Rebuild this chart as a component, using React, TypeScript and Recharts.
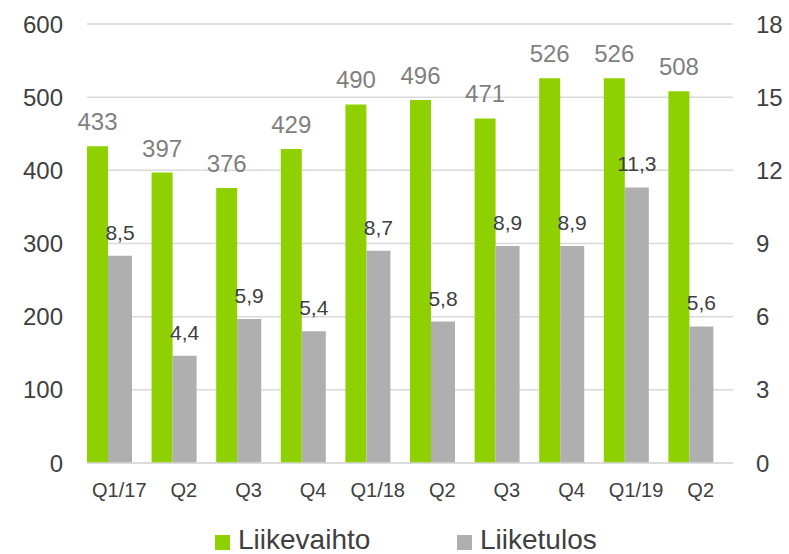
import { Bar, BarChart, CartesianGrid, LabelList, Legend, XAxis, YAxis } from 'recharts';

const FONT = '"Liberation Sans", Arial, sans-serif';
const GREEN = '#8fd100';
const GREY = '#afafaf';
const TEXT = '#404040';
const LABEL_GREY = '#7f7f7f';

const quarters = ['Q1/17', 'Q2', 'Q3', 'Q4', 'Q1/18', 'Q2', 'Q3', 'Q4', 'Q1/19', 'Q2'];
const liikevaihto = [433, 397, 376, 429, 490, 496, 471, 526, 526, 508];
const liiketulos = [8.5, 4.4, 5.9, 5.4, 8.7, 5.8, 8.9, 8.9, 11.3, 5.6];
const leftTicks = [0, 100, 200, 300, 400, 500, 600];
const rightTicks = [0, 3, 6, 9, 12, 15, 18];

// third empty series keeps the Excel-style offset of the bar pair inside each category
const data = quarters.map((q, i) => ({
  q,
  liikevaihto: liikevaihto[i],
  liiketulos: liiketulos[i],
  tyhja: null,
}));

const fmtComma = (v: number) => v.toFixed(1).replace('.', ',');

function makeLabel(fontSize: number, fill: string, format: (v: number) => string) {
  return (props: any) => {
    const { x, y, width, value } = props;
    if (value == null) return null;
    return (
      <text
        x={Number(x) + Number(width) / 2}
        y={Number(y) - 16}
        textAnchor="middle"
        fontSize={fontSize}
        fill={fill}
        fontFamily={FONT}
      >
        {format(Number(value))}
      </text>
    );
  };
}

const legendItems = [
  { name: 'Liikevaihto', color: GREEN, width: 242 },
  { name: 'Liiketulos', color: GREY, width: 180 },
];

function ChartLegend() {
  return (
    <div style={{ display: 'flex', fontFamily: FONT, fontSize: 28, lineHeight: '28px', color: TEXT }}>
      {legendItems.map((it) => (
        <div key={it.name} style={{ display: 'flex', alignItems: 'center', width: it.width }}>
          <span style={{ width: 15, height: 15, background: it.color, marginTop: 4, marginRight: 8 }} />
          <span>{it.name}</span>
        </div>
      ))}
    </div>
  );
}

export default function App() {
  return (
    <div style={{ position: 'absolute', left: 0, top: 0, background: '#fff' }}>
      <BarChart
        width={789}
        height={554}
        data={data}
        margin={{ top: 24, right: 0, bottom: 61, left: 0 }}
        barGap={0}
      >
        <CartesianGrid yAxisId="left" vertical={false} stroke="#d9d9d9" strokeWidth={1.5} />
        <XAxis
          dataKey="q"
          height={30}
          tickLine={false}
          tickSize={0}
          tickMargin={20}
          axisLine={{ stroke: '#d9d9d9', strokeWidth: 1.5 }}
          tick={{ fill: TEXT, fontSize: 20, fontFamily: FONT }}
          interval={0}
        />
        <YAxis
          yAxisId="left"
          width={87}
          domain={[0, 600]}
          ticks={leftTicks}
          tickLine={false}
          axisLine={false}
          tickSize={0}
          tickMargin={24}
          tick={{ fill: TEXT, fontSize: 24, fontFamily: FONT }}
        />
        <YAxis
          yAxisId="right"
          orientation="right"
          width={56}
          domain={[0, 18]}
          ticks={rightTicks}
          tickLine={false}
          axisLine={false}
          tickSize={0}
          tickMargin={23}
          tick={{ fill: TEXT, fontSize: 24, fontFamily: FONT, textAnchor: 'start' }}
        />
        <Legend
          layout="horizontal"
          verticalAlign="middle"
          content={() => <ChartLegend />}
          wrapperStyle={{ left: 215, top: 526, width: 430, bottom: 'auto' }}
        />
        <Bar yAxisId="left" dataKey="liikevaihto" fill={GREEN} barSize={21} isAnimationActive={false}>
          <LabelList dataKey="liikevaihto" content={makeLabel(24, LABEL_GREY, (v) => String(v))} />
        </Bar>
        <Bar yAxisId="right" dataKey="liiketulos" fill={GREY} barSize={24} isAnimationActive={false}>
          <LabelList dataKey="liiketulos" content={makeLabel(21, TEXT, fmtComma)} />
        </Bar>
        <Bar yAxisId="right" dataKey="tyhja" fill="transparent" barSize={19} isAnimationActive={false} legendType="none" />
      </BarChart>
    </div>
  );
}
